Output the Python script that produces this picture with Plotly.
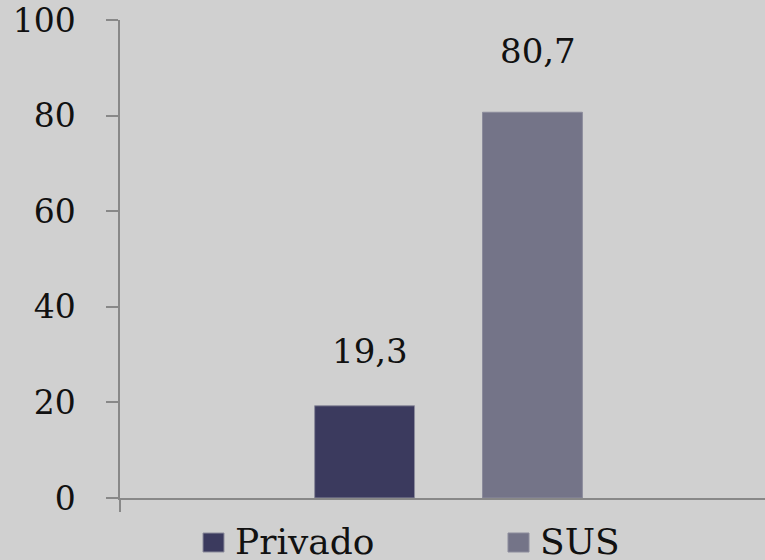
import plotly.graph_objects as go

categories = [""]
series_names = ["Privado", "SUS"]
series_values = [19.3, 80.7]
y_ticks = [0, 20, 40, 60, 80, 100]

colors = ["#3b3a5e", "#747488"]
bg = "#d0d0d0"
font_family = "DejaVu Serif"

W, H = 765, 560
ML, MR, MT, MB = 120, 0, 20, 62
PW, PH = W - ML - MR, H - MT - MB


def px(x):
    return (x - ML) / PW


def py(y):
    return (H - MB - y) / PH


fig = go.Figure()
for name, val, col in zip(series_names, series_values, colors):
    fig.add_trace(go.Bar(
        x=categories, y=[val], name=name, showlegend=False,
        marker=dict(color=col, line=dict(color="#8c8c9c", width=1)),
    ))

shifts = [-73, 95]
yshifts = [55, 61]
for val, xs, ys in zip(series_values, shifts, yshifts):
    fig.add_annotation(
        x=categories[0], y=val, text=f"{val:.1f}".replace(".", ","),
        showarrow=False, xshift=xs, yshift=ys, yanchor="middle",
        font=dict(family=font_family, size=34, color="#111111"),
    )

# manual legend
legend_x = [203, 508]
for name, col, lx in zip(series_names, colors, legend_x):
    fig.add_shape(
        type="rect", xref="paper", yref="paper",
        x0=px(lx), x1=px(lx + 21), y0=py(552), y1=py(533),
        fillcolor=col, line=dict(color="#8c8c9c", width=1),
    )
    fig.add_annotation(
        xref="paper", yref="paper", x=px(lx + 30), y=py(541),
        xanchor="left", yanchor="middle", showarrow=False, text=name,
        font=dict(family=font_family, size=36, color="#111111"),
    )

fig.update_layout(
    width=W, height=H,
    margin=dict(l=ML, r=MR, t=MT, b=MB, autoexpand=False),
    paper_bgcolor=bg, plot_bgcolor=bg,
    barmode="group", bargap=0.489, bargroupgap=0.405,
    showlegend=False,
    xaxis=dict(
        range=[-0.5, 0.4817], showticklabels=False, tickson="boundaries",
        ticks="outside", ticklen=12, tickcolor="#888888", tickwidth=1.5,
        showline=True, linecolor="#888888", linewidth=1.5,
        showgrid=False, zeroline=False, fixedrange=True,
    ),
    yaxis=dict(
        range=[0, 100], tickvals=y_ticks, ticks="outside", ticklen=12,
        tickcolor="#888888", tickwidth=1.5, showline=True,
        linecolor="#888888", linewidth=1.5, showgrid=False, zeroline=False,
        ticklabelstandoff=24,
        tickfont=dict(family=font_family, size=33, color="#111111"),
    ),
)

fig.write_html(
    "out.html",
    config={"displayModeBar": False},
    post_script="document.body.style.margin='0';document.body.style.background='%s';" % bg,
)
